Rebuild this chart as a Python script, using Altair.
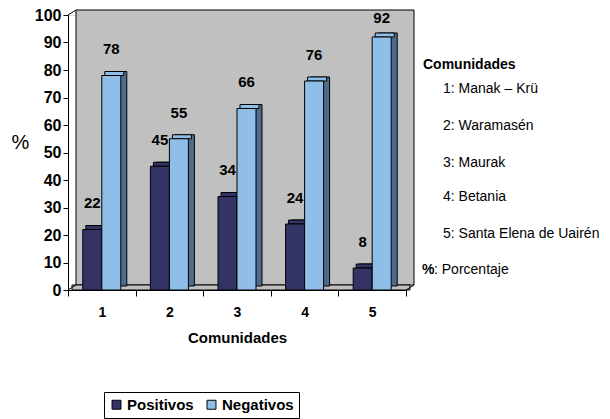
import altair as alt
import pandas as pd

comunidades = ["1", "2", "3", "4", "5"]
positivos = [22, 45, 34, 24, 8]
negativos = [78, 55, 66, 76, 92]
series = ["Positivos", "Negativos"]
front_colors = ["#333366", "#8fbfe9"]
side_colors = ["#1d1b45", "#4f6b8c"]
nota_titulo = "Comunidades"
nota_items = ["1: Manak – Krü", "2:  Waramasén", "3:  Maurak", "4: Betania", "5: Santa Elena de Uairén"]
nota_pct = ["%", ": Porcentaje"]

df = pd.DataFrame({
    "Comunidad": comunidades * 2,
    "Serie": [series[0]] * len(comunidades) + [series[1]] * len(comunidades),
    "Valor": positivos + negativos,
})
one = pd.DataFrame({"a": [0]})

W, H = 338, 275
DX, DY = 8, -5      # wall depth
BDX, BDY = 6, -4    # bar depth
BW = 19
FONT = "Liberation Sans"

yscale = alt.Scale(domain=[0, 100], nice=False)
xenc = alt.X("Comunidad:N", sort=comunidades,
             scale=alt.Scale(paddingInner=0, paddingOuter=0),
             axis=alt.Axis(labelAngle=0, tickBand="extent", tickSize=6, labelPadding=9,
                           labelFont=FONT, labelFontSize=14, labelFontWeight="bold",
                           labelColor="black", domainColor="black", tickColor="black",
                           title="Comunidades", titleFont=FONT, titleFontSize=15,
                           titleFontWeight="bold", titleColor="black", titlePadding=11,
                           zindex=1))
yaxis = alt.Axis(values=list(range(0, 101, 10)), tickSize=5, labelPadding=2,
                 labelFont=FONT, labelFontSize=16, labelFontWeight="bold",
                 labelColor="black", domainColor="black", tickColor="black",
                 grid=False, title="%", titleAngle=0, titleX=-48, titleY=127,
                 titleAlign="center", titleBaseline="middle",
                 titleFont=FONT, titleFontSize=20, titleFontWeight="normal",
                 titleColor="black", zindex=1)
yenc = alt.Y("Valor:Q", scale=yscale, axis=yaxis)

wall = alt.Chart(one).mark_rect(fill="#c0c0c0", stroke="black", strokeWidth=1).encode(
    x=alt.value(DX), x2=alt.value(W + DX), y=alt.value(DY), y2=alt.value(H + DY))
floor = alt.Chart(one).mark_rect(fill="#c0c0c0", stroke="black", strokeWidth=1).encode(
    x=alt.value(DX / 2), x2=alt.value(W + DX / 2), y=alt.value(H + DY), y2=alt.value(H))

edges = []
for (x1, y1, x2, y2) in [(0, 0, DX, DY), (0, H, DX, H + DY), (W, H, W + DX, H + DY)]:
    edges.append(alt.Chart(one).mark_rule(color="black", strokeWidth=1).encode(
        x=alt.value(x1), y=alt.value(y1), x2=alt.value(x2), y2=alt.value(y2)))

color_scale = alt.Scale(domain=series, range=front_colors)
legend = alt.Legend(orient="none", legendX=36, legendY=377, direction="horizontal",
                    title=None, strokeColor="black", fillColor="white", padding=5,
                    symbolType="square", symbolSize=80, symbolStrokeColor="black",
                    symbolStrokeWidth=1, labelFont=FONT, labelFontSize=15,
                    labelFontWeight="bold", labelColor="black", labelOffset=3,
                    columnPadding=10)

bar_layers = []
text_layers = []
for i, s in enumerate(series):
    off = -BW / 2 if i == 0 else BW / 2
    base = alt.Chart(df).transform_filter(alt.datum.Serie == s)
    side = base.mark_bar(width=BW, xOffset=off + BDX, yOffset=BDY, fill=side_colors[i],
                         stroke="black", strokeWidth=1).encode(x=xenc, y=yenc)
    top = base.mark_bar(width=BW, xOffset=off + BDX / 2, yOffset=BDY, y2Offset=0,
                        fill=front_colors[i], stroke="black", strokeWidth=1).encode(
        x=xenc, y=yenc, y2="Valor:Q")
    front = base.mark_bar(width=BW, xOffset=off, stroke="black", strokeWidth=1).encode(
        x=xenc, y=yenc,
        color=alt.Color("Serie:N", scale=color_scale, legend=legend))
    bar_layers += [side, top, front]
    txt = base.transform_calculate(ly="min(datum.Valor + 9.5, 99)").mark_text(
        xOffset=off, font=FONT, fontSize=15, fontWeight="bold", color="black",
        baseline="middle").encode(
        x=xenc, y=alt.Y("ly:Q", scale=yscale, axis=yaxis),
        text="Valor:Q")
    text_layers.append(txt)

NF = 14
notes = [alt.Chart(one).mark_text(text=nota_titulo, font=FONT, fontSize=NF,
                                  fontWeight="bold", align="left", baseline="middle",
                                  color="black").encode(x=alt.value(355), y=alt.value(50))]
item_y = [74, 111, 148, 182, 219]
for t, yy in zip(nota_items, item_y):
    notes.append(alt.Chart(one).mark_text(text=t, font=FONT, fontSize=NF,
                                          align="left", baseline="middle",
                                          color="black").encode(x=alt.value(375), y=alt.value(yy)))
notes.append(alt.Chart(one).mark_text(text=nota_pct[0], font=FONT, fontSize=NF,
                                      fontWeight="bold", align="left", baseline="middle",
                                      color="black").encode(x=alt.value(354), y=alt.value(255)))
notes.append(alt.Chart(one).mark_text(text=nota_pct[1], font=FONT, fontSize=NF,
                                      align="left", baseline="middle",
                                      color="black").encode(x=alt.value(366), y=alt.value(255)))

chart = alt.layer(wall, floor, *bar_layers, *edges, *text_layers, *notes).properties(
    width=W, height=H,
    autosize=alt.AutoSizeParams(type="none"),
    padding={"left": 60, "top": 7, "right": 196, "bottom": 130},
).configure_view(stroke=None).configure(background="white")

chart.save("out.html", embed_options={"renderer": "svg", "actions": False})
